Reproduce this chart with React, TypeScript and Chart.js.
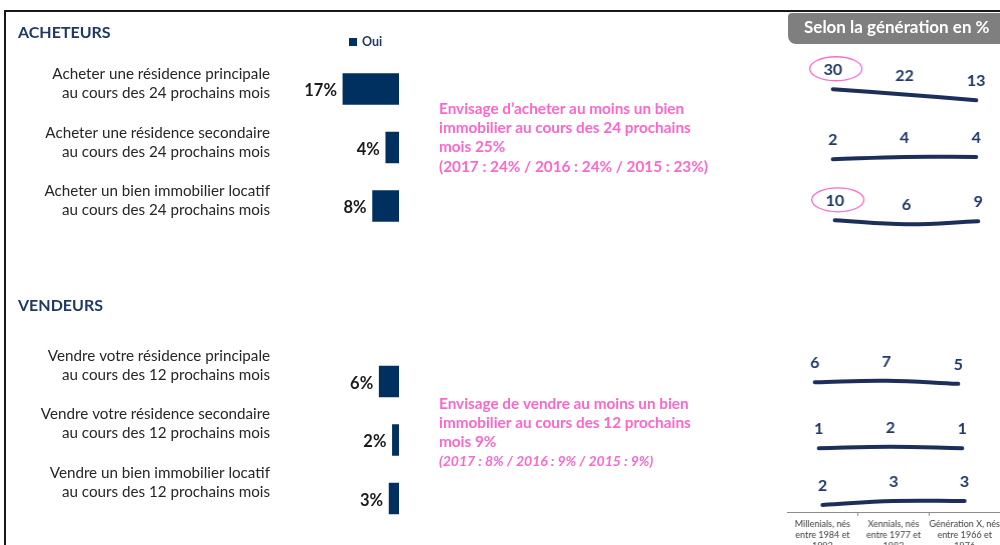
import React, { useEffect, useRef } from "react";
import { Chart, registerables } from "chart.js";

Chart.register(...registerables);

// ---------- DATA ----------
const buyerLabels: string[][] = [
  ["Acheter une résidence principale", "au cours des 24 prochains mois"],
  ["Acheter une résidence secondaire", "au cours des 24 prochains mois"],
  ["Acheter un bien immobilier locatif", "au cours des 24 prochains mois"],
];
const buyerValues: number[] = [17, 4, 8];

const sellerLabels: string[][] = [
  ["Vendre votre résidence principale", "au cours des 12 prochains mois"],
  ["Vendre votre résidence secondaire", "au cours des 12 prochains mois"],
  ["Vendre un bien immobilier locatif", "au cours des 12 prochains mois"],
];
const sellerValues: number[] = [6, 2, 3];

const seriesName = "Oui";
const sectionTitles = ["ACHETEURS", "VENDEURS"];

const buyerNote: string[] = [
  "Envisage d’acheter au moins un bien",
  "immobilier au cours des 24 prochains",
  "mois 25%",
  "(2017 : 24% / 2016 : 24% / 2015 : 23%)",
];
const sellerNote: string[] = [
  "Envisage de vendre au moins un bien",
  "immobilier au cours des 12 prochains",
  "mois 9%",
  "(2017 : 8% / 2016 : 9% / 2015 : 9%)",
];

const headerText = "Selon la génération en %";
const generations: string[][] = [
  ["Millenials, nés", "entre 1984 et", "1993"],
  ["Xennials, nés", "entre 1977 et", "1983"],
  ["Génération X, nés", "entre 1966 et", "1976"],
];
const genRow1: number[] = [30, 22, 13];
const genRow2: number[] = [2, 4, 4];
const genRow3: number[] = [10, 6, 9];
const genRow4: number[] = [6, 7, 5];
const genRow5: number[] = [1, 2, 1];
const genRow6: number[] = [2, 3, 3];
const genHighlight1: boolean[] = [true, false, false];
const genHighlight3: boolean[] = [true, false, false];
const noHighlight: boolean[] = [false, false, false];

// ---------- STYLE ----------
const NAVY = "#00305f";
const TITLE = "#1f3864";
const PINK = "#ff66cc";
const TEXT = "#262626";
const FONT = "Lato, 'Open Sans', sans-serif";

function MainChart() {
  const ref = useRef<HTMLCanvasElement | null>(null);
  useEffect(() => {
    const labels = [...buyerLabels, [""], [""], ...sellerLabels];
    const values = [...buyerValues, null, null, ...sellerValues];
    const labelOffsets = [-5, -5, -5, 0, 0, -16, -16, -16];

    const overlay = {
      id: "overlay",
      afterDraw(chart: any) {
        const ctx = chart.ctx as CanvasRenderingContext2D;
        const xs = chart.scales.x;
        const ys = chart.scales.y;
        ctx.save();
        // frame
        ctx.strokeStyle = "#1a1a1a";
        ctx.lineWidth = 2;
        ctx.beginPath();
        ctx.moveTo(5, 560);
        ctx.lineTo(5, 11);
        ctx.lineTo(1010, 11);
        ctx.stroke();

        // header box
        ctx.fillStyle = "#7f7f7f";
        ctx.beginPath();
        (ctx as any).roundRect(788, 13, 230, 31, [4, 0, 0, 8]);
        ctx.fill();
        ctx.fillStyle = "#ffffff";
        ctx.font = `bold 17px ${FONT}`;
        ctx.textBaseline = "middle";
        ctx.textAlign = "left";
        ctx.fillText(headerText, 804, 28);

        // section titles
        ctx.fillStyle = TITLE;
        ctx.font = `bold 16px ${FONT}`;
        ctx.fillText(sectionTitles[0], 18, 33);
        ctx.fillText(sectionTitles[1], 18, 306);

        // legend
        ctx.fillStyle = NAVY;
        ctx.fillRect(349, 38, 8, 8);
        ctx.fillStyle = TITLE;
        ctx.font = `bold 12.5px ${FONT}`;
        ctx.fillText(seriesName, 362, 42);

        // category labels + value labels
        for (let i = 0; i < labels.length; i++) {
          const v = values[i];
          if (v == null) continue;
          const yc = ys.getPixelForValue(i);
          ctx.fillStyle = TEXT;
          ctx.font = `15.2px ${FONT}`;
          ctx.textAlign = "right";
          const lines = labels[i];
          const top = yc + labelOffsets[i] - ((lines.length - 1) * 19) / 2;
          lines.forEach((ln: string, k: number) => ctx.fillText(ln, 270, top + k * 19));
          ctx.fillStyle = "#1a1a1a";
          ctx.font = `bold 16.5px ${FONT}`;
          ctx.fillText(`${v}%`, xs.getPixelForValue(v) - 6, yc + 2);
        }

        // pink notes
        ctx.fillStyle = PINK;
        ctx.textAlign = "left";
        const drawNote = (lines: string[], y0: number, lastItalic: boolean) => {
          lines.forEach((ln, k) => {
            if (k === lines.length - 1 && lastItalic) ctx.font = `italic bold 14px ${FONT}`;
            else ctx.font = `bold 15.3px ${FONT}`;
            ctx.fillText(ln, 439, y0 + k * 19.2);
          });
        };
        drawNote(buyerNote, 109, false);
        drawNote(sellerNote, 404, true);
        ctx.restore();
      },
    };

    const chart = new Chart(ref.current!, {
      type: "bar",
      data: {
        labels: labels.map((l) => l.join(" ")),
        datasets: [
          {
            label: seriesName,
            data: values as any,
            backgroundColor: NAVY,
            barThickness: 31,
          },
        ],
      },
      options: {
        indexAxis: "y",
        animation: false,
        responsive: false,
        layout: { padding: { left: 333, right: 601, top: 59.75, bottom: 17.25 } },
        plugins: { legend: { display: false }, tooltip: { enabled: false } },
        scales: {
          x: { type: "linear", reverse: true, min: 0, max: 20, display: false },
          y: { type: "category", display: false, offset: true },
        },
      },
      plugins: [overlay],
    });
    return () => chart.destroy();
  }, []);
  return (
    <canvas
      ref={ref}
      width={1000}
      height={545}
      style={{ position: "absolute", left: 0, top: 0, width: 1000, height: 545 }}
    />
  );
}

type RowProps = {
  values: number[];
  highlight: boolean[];
  left: number;
  areaTop: number;
  areaHeight: number;
  min: number;
  max: number;
  withAxis?: boolean;
};

function GenRow({ values, highlight, left, areaTop, areaHeight, min, max, withAxis }: RowProps) {
  const ref = useRef<HTMLCanvasElement | null>(null);
  const padTop = 30;
  const axisH = withAxis ? 46 : 6;
  const width = 214.5;
  const height = padTop + areaHeight + axisH;
  useEffect(() => {
    const labelsPlugin = {
      id: "vals",
      afterDatasetsDraw(chart: any) {
        const ctx = chart.ctx as CanvasRenderingContext2D;
        const meta = chart.getDatasetMeta(0);
        ctx.save();
        ctx.font = `bold 16px ${FONT}`;
        ctx.fillStyle = TITLE;
        ctx.textAlign = "center";
        ctx.textBaseline = "middle";
        meta.data.forEach((pt: any, i: number) => {
          const ly = pt.y - 19;
          ctx.fillText(String(values[i]), pt.x, ly);
          if (highlight[i]) {
            ctx.strokeStyle = PINK;
            ctx.lineWidth = 1.3;
            ctx.beginPath();
            ctx.ellipse(pt.x + 3, ly - 1.5, 26, 12, 0, 0, Math.PI * 2);
            ctx.stroke();
          }
        });
        ctx.restore();
      },
    };
    const chart = new Chart(ref.current!, {
      type: "line",
      data: {
        labels: generations.map((g) => g),
        datasets: [
          {
            data: values,
            borderColor: "#1c2f5a",
            borderWidth: 4,
            borderCapStyle: "round",
            pointRadius: 0,
            tension: 0.4,
            clip: false as any,
          },
        ],
      },
      options: {
        animation: false,
        responsive: false,
        layout: { padding: { top: padTop, bottom: withAxis ? 0 : axisH, left: 0, right: 0 } },
        plugins: { legend: { display: false }, tooltip: { enabled: false } },
        scales: {
          x: {
            display: !!withAxis,
            offset: true,
            grid: {
              offset: true,
              drawOnChartArea: false,
              tickLength: 4,
              color: "#8c8c8c",
            },
            border: { display: true, color: "#8c8c8c", width: 1 },
            ticks: {
              font: { size: 9, family: FONT, lineHeight: 1.25 },
              color: "#404040",
              padding: 2,
              maxRotation: 0,
              autoSkip: false,
            },
            afterFit: (axis: any) => {
              axis.height = axisH;
            },
          },
          y: { display: false, min, max },
        },
      },
      plugins: [labelsPlugin],
    });
    return () => chart.destroy();
  }, []);
  return (
    <canvas
      ref={ref}
      width={width}
      height={height}
      style={{ position: "absolute", left, top: areaTop - padTop, width, height }}
    />
  );
}

export default function App() {
  return (
    <div
      style={{
        position: "fixed",
        left: 0,
        top: 0,
        width: 1000,
        height: 545,
        overflow: "hidden",
        background: "#ffffff",
      }}
    >
      <MainChart />
      <GenRow values={genRow1} highlight={genHighlight1} left={797} areaTop={86} areaHeight={28} min={1} max={35} />
      <GenRow values={genRow2} highlight={noHighlight} left={797} areaTop={150} areaHeight={28} min={-9} max={10} />
      <GenRow values={genRow3} highlight={genHighlight3} left={799} areaTop={214} areaHeight={28} min={-6} max={16.4} />
      <GenRow values={genRow4} highlight={noHighlight} left={779} areaTop={376} areaHeight={28} min={-4} max={10} />
      <GenRow values={genRow5} highlight={noHighlight} left={783} areaTop={442} areaHeight={28} min={-9} max={5} />
      <GenRow values={genRow6} highlight={noHighlight} left={787} areaTop={493} areaHeight={19} min={0.25} max={5} withAxis />
    </div>
  );
}
